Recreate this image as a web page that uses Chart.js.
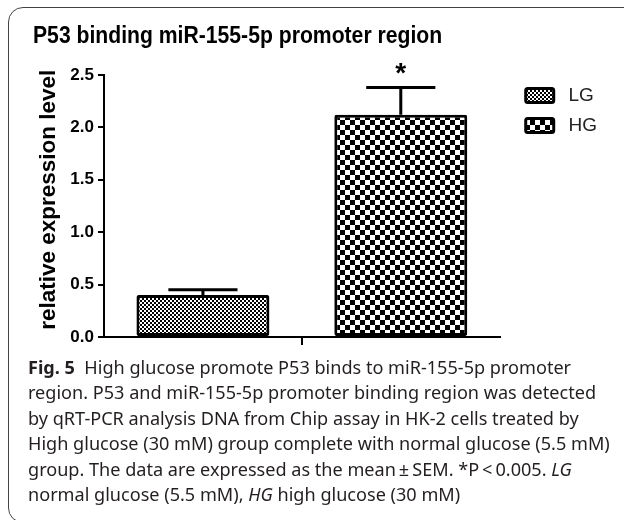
<!DOCTYPE html>
<html>
<head>
<meta charset="utf-8">
<script src="https://cdn.jsdelivr.net/npm/chart.js@4.4.0/dist/chart.umd.min.js"></script>
<style>
  html, body { margin: 0; padding: 0; background: #fff; }
  body { width: 624px; height: 520px; position: relative; overflow: hidden; }
  #frame { position: absolute; left: 8px; top: 7px; width: 700px; height: 516px; border: 1.3px solid #444; border-radius: 15px; box-sizing: border-box; }
  #chart { position: absolute; left: 0; top: 0; }
  #title { position: absolute; left: 33px; top: 24px; font: bold 23px "Liberation Sans", Arial, sans-serif; line-height: 23px; color: #000; white-space: nowrap; transform: scaleX(0.92); transform-origin: 0 0; }
  #caption { position: absolute; left: 28px; top: 355px; font-family: "Noto Sans", sans-serif; font-size: 17px; line-height: 25.4px; color: #231f20; white-space: nowrap; }
  #caption b { color: #231f20; }
</style>
</head>
<body>
<div id="frame"></div>
<canvas id="chart" width="624" height="360"></canvas>
<div id="title">P53 binding miR-155-5p promoter region</div>
<div id="caption">
  <div><b>Fig. 5</b>&nbsp;&nbsp;High glucose promote P53 binds to miR-155-5p promoter</div>
  <div>region. P53 and miR-155-5p promoter binding region was detected</div>
  <div>by qRT-PCR analysis DNA from Chip assay in HK-2 cells treated by</div>
  <div><span id="fit">High glucose (30 mM) group complete with normal glucose (5.5 mM)</span></div>
  <div>group. The data are expressed as the mean&thinsp;±&thinsp;SEM. *P&thinsp;&lt;&thinsp;0.005. <i>LG</i></div>
  <div>normal glucose (5.5 mM), <i>HG</i> high glucose (30 mM)</div>
</div>
<script>
// data
const groups = ["LG", "HG"];
const means = [0.40, 2.12];
const sems = [0.05, 0.26];
const marks = ["", "*"];
const yMax = 2.5;
const yStep = 0.5;

// fit caption width to the reference line length
const caption = document.getElementById("caption");
const fitLine = document.getElementById("fit");
const w = fitLine.getBoundingClientRect().width;
caption.style.fontSize = (17 * 582 / w) + "px";

const canvas = document.getElementById("chart");
const cctx = canvas.getContext("2d");

function checker(cell) {
  const c = document.createElement("canvas");
  c.width = c.height = cell * 2;
  const g = c.getContext("2d");
  g.fillStyle = "#fff";
  g.fillRect(0, 0, cell * 2, cell * 2);
  g.fillStyle = "#000";
  g.fillRect(0, 0, cell, cell);
  g.fillRect(cell, cell, cell, cell);
  return cctx.createPattern(c, "repeat");
}

const patterns = [checker(2), checker(5)];

// error bars + significance mark
const errorBars = {
  id: "errorBars",
  afterDatasetsDraw(chart) {
    const ctx = chart.ctx;
    const y = chart.scales.y;
    const meta = chart.getDatasetMeta(0);
    ctx.save();
    ctx.strokeStyle = "#000";
    ctx.lineWidth = 3;
    meta.data.forEach((bar, i) => {
      const top = y.getPixelForValue(means[i] + sems[i]);
      const cap = bar.width * 0.26;
      ctx.beginPath();
      ctx.moveTo(bar.x, bar.y);
      ctx.lineTo(bar.x, top);
      ctx.moveTo(bar.x - cap, top);
      ctx.lineTo(bar.x + cap, top);
      ctx.stroke();
      if (marks[i]) {
        ctx.fillStyle = "#000";
        ctx.font = "bold 28px 'Liberation Sans', Arial";
        ctx.textAlign = "center";
        ctx.textBaseline = "alphabetic";
        ctx.fillText(marks[i], bar.x, top - 6);
      }
    });
    ctx.restore();
  }
};

new Chart(canvas, {
  type: "bar",
  data: {
    labels: groups,
    datasets: [{
      data: means,
      backgroundColor: patterns,
      borderColor: "#000",
      borderWidth: 3,
      borderRadius: 2,
      borderSkipped: false,
      categoryPercentage: 1,
      barPercentage: 0.672
    }]
  },
  options: {
    responsive: false,
    animation: false,
    events: [],
    layout: { padding: { top: 75, right: 17, bottom: 13, left: 0 } },
    plugins: {
      tooltip: { enabled: false },
      legend: {
        position: "right",
        align: "start",
        labels: {
          boxWidth: 28,
          boxHeight: 14,
          padding: 11,
          color: "#222",
          font: { family: "'Liberation Sans', Arial", size: 19 },
          generateLabels: () => groups.map((g, i) => ({
            text: " " + g,
            fillStyle: patterns[i],
            strokeStyle: "#000",
            lineWidth: 3,
            borderRadius: 2,
            fontColor: "#222",
            hidden: false,
            index: i,
            datasetIndex: 0
          }))
        }
      }
    },
    scales: {
      x: {
        grid: {
          offset: true,
          drawOnChartArea: false,
          tickLength: 8,
          lineWidth: 2,
          color: c => c.index === 1 ? "#000" : "rgba(0,0,0,0)"
        },
        border: { color: "#000", width: 2 },
        ticks: { display: false },
        afterFit: s => { s.height = 10; }
      },
      y: {
        min: 0,
        max: yMax,
        ticks: {
          stepSize: yStep,
          padding: 4,
          color: "#000",
          font: { family: "'Liberation Sans', Arial", size: 17, weight: "bold" },
          callback: v => v.toFixed(1)
        },
        grid: { drawOnChartArea: false, tickLength: 6, lineWidth: 2, color: "#000" },
        border: { color: "#000", width: 2 },
        title: {
          display: true,
          text: "  relative expression level",
          color: "#000",
          font: { family: "'Liberation Sans', Arial", size: 22.5, weight: "bold" },
          padding: { top: 35, bottom: 0 }
        },
        afterFit: s => { s.width = 104; }
      },
      gap: {
        type: "linear",
        position: "right",
        display: true,
        grid: { display: false },
        border: { display: false },
        ticks: { display: false },
        afterFit: s => { s.width = 15; }
      }
    }
  },
  plugins: [errorBars]
});
</script>
</body>
</html>
